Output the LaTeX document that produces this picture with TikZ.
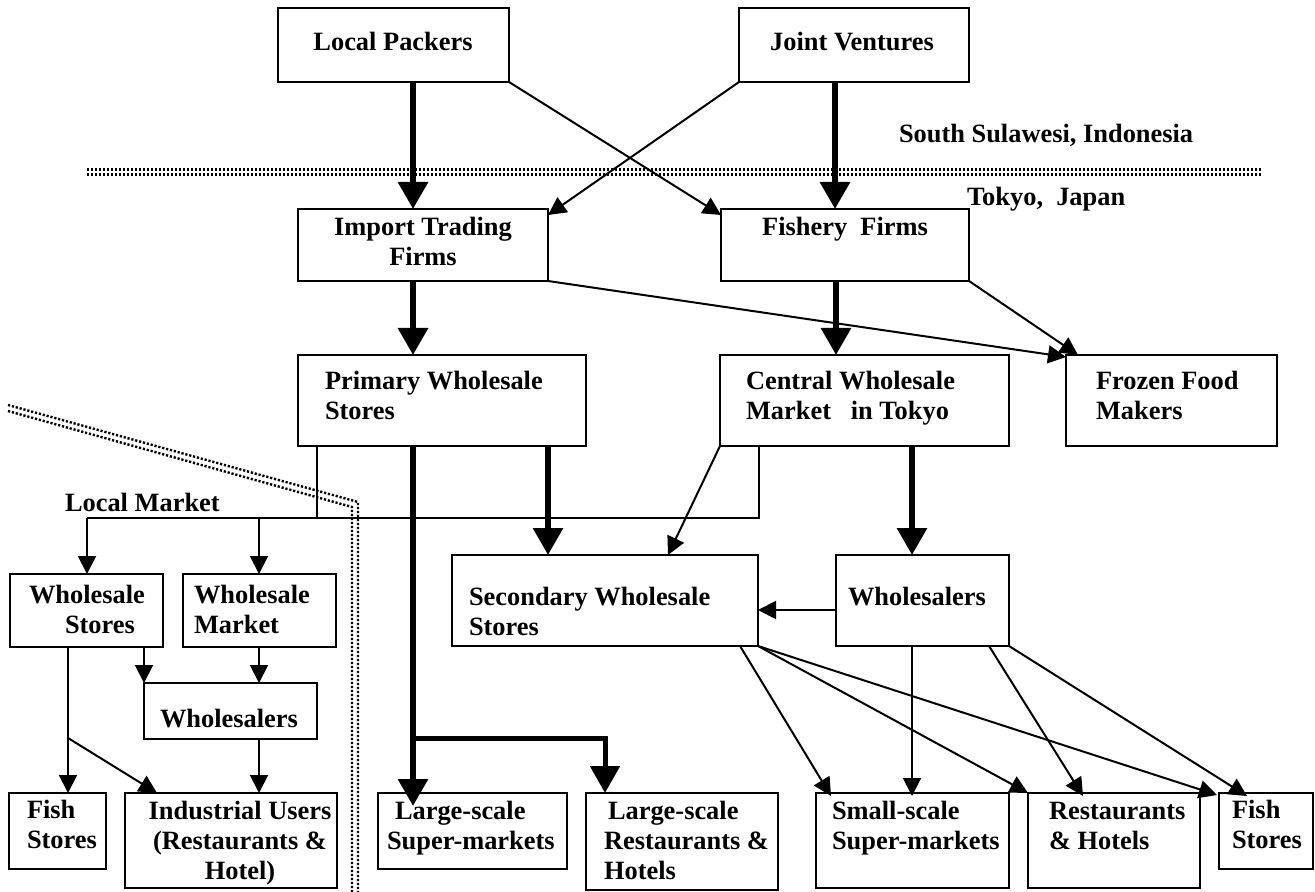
\documentclass[tikz,border=0pt]{standalone}
\usepackage{fontspec}
\setmainfont{Liberation Serif}
\usetikzlibrary{arrows.meta,calc}
\newcommand{\Ltab}[1]{\begin{tabular}[t]{@{}l@{}}#1\end{tabular}}
\newcommand{\Ctab}[1]{\begin{tabular}[t]{@{}c@{}}#1\end{tabular}}
\begin{document}
\begin{tikzpicture}[x=0.5pt,y=-0.5pt,
  box/.style={draw,line width=1pt,inner sep=0pt,outer sep=0pt,anchor=north west},
  lbl/.style={font=\fontsize{13.2}{15}\selectfont\bfseries,inner sep=0pt,outer sep=0pt},
  lnk/.style={line width=1pt},
  arr/.style={line width=1pt,-{Triangle[length=9pt,width=9pt]}},
  bigarr/.style={line width=3pt,-{Triangle[length=13.5pt,width=14.5pt]}},
  dots/.style={line width=1.2pt,dash pattern=on 1.1pt off 0.9pt}]

\useasboundingbox (0,0) rectangle (1315,892);

% boxes
\node[box,minimum width=115.5pt,minimum height=37pt] (lp) at (278,8) {};
\node[box,minimum width=115pt,minimum height=37pt] (jv) at (739,8) {};
\node[box,minimum width=125pt,minimum height=36pt] (ip) at (298,209) {};
\node[box,minimum width=124pt,minimum height=36pt] (ff) at (721,209) {};
\node[box,minimum width=144pt,minimum height=45.5pt] (prim) at (298,355) {};
\node[box,minimum width=144.5pt,minimum height=45.5pt] (cw) at (720,355) {};
\node[box,minimum width=105.5pt,minimum height=45.5pt] (ffm) at (1066,355) {};
\node[box,minimum width=76.5pt,minimum height=36.5pt] (ws) at (10,574) {};
\node[box,minimum width=76.5pt,minimum height=36.5pt] (wm) at (183,574) {};
\node[box,minimum width=86.5pt,minimum height=28pt] (wl) at (144,683) {};
\node[box,minimum width=153pt,minimum height=45.5pt] (sec) at (452,555) {};
\node[box,minimum width=86.5pt,minimum height=45.5pt] (wr) at (836,555) {};
\node[box,minimum width=48.5pt,minimum height=38pt] (fs1) at (9,793) {};
\node[box,minimum width=106pt,minimum height=47.5pt] (iu) at (125,793) {};
\node[box,minimum width=94.5pt,minimum height=38pt] (ls) at (378,793) {};
\node[box,minimum width=96pt,minimum height=48.5pt] (lr) at (586,793) {};
\node[box,minimum width=96.5pt,minimum height=47.5pt] (ss) at (816,793) {};
\node[box,minimum width=86pt,minimum height=47.5pt] (rh) at (1028,793) {};
\node[box,minimum width=47pt,minimum height=38pt] (fs2) at (1219,793) {};

% box texts
\node[lbl,anchor=base] (lp-t) at (393,51) {Local Packers};
\node[lbl,anchor=base] (jv-t) at (852,51) {Joint Ventures};
\node[lbl,anchor=base] (ip-t) at (423,236) {\Ctab{Import Trading\\Firms}};
\node[lbl,anchor=base] (ff-t) at (845,236) {Fishery\ \ Firms};
\node[lbl,anchor=base west] (prim-t) at (325,390) {\Ltab{Primary Wholesale\\Stores}};
\node[lbl,anchor=base west] (cw-t) at (746,390) {\Ltab{Central Wholesale\\Market\ \ \ in Tokyo}};
\node[lbl,anchor=base west] (ffm-t) at (1096,390) {\Ltab{Frozen Food\\Makers}};
\node[lbl,anchor=base west] (ws-t) at (29,603) {\Ltab{Wholesale\\\hspace{18pt}Stores}};
\node[lbl,anchor=base west] (wm-t) at (194,603) {\Ltab{Wholesale\\Market}};
\node[lbl,anchor=base] (wl-t) at (229,727) {Wholesalers};
\node[lbl,anchor=base west] (sec-t) at (469,605) {\Ltab{Secondary Wholesale\\Stores}};
\node[lbl,anchor=base west] (wr-t) at (848,605) {Wholesalers};
\node[lbl,anchor=base west] (fs1-t) at (27,818) {\Ltab{Fish\\Stores}};
\node[lbl,anchor=base] (iu-t) at (240,819) {\Ctab{Industrial Users\\(Restaurants \&\\Hotel)}};
\node[lbl,anchor=base west] (ls-t) at (387,819) {\Ltab{\hspace{4pt}Large-scale\\Super-markets}};
\node[lbl,anchor=base west] (lr-t) at (604,819) {\Ltab{\hspace{2pt}Large-scale\\Restaurants \&\\Hotels}};
\node[lbl,anchor=base west] (ss-t) at (832,819) {\Ltab{Small-scale\\Super-markets}};
\node[lbl,anchor=base west] (rh-t) at (1049,819) {\Ltab{Restaurants\\\& Hotels}};
\node[lbl,anchor=base west] (fs2-t) at (1232,818) {\Ltab{Fish\\Stores}};

% region labels
\node[lbl,anchor=base west] (sul) at (899,143) {South Sulawesi, Indonesia};
\node[lbl,anchor=base west] (tok) at (967,206) {Tokyo,\ \ Japan};
\node[lbl,anchor=base west] (lm) at (65,511) {Local Market};

% region borders (double dotted)
\draw[dots] (87,169.5) -- (1262,169.5);
\draw[dots] (87,174.5) -- (1262,174.5);
\draw[dots] (8,405) -- (358,502) -- (358,892);
\draw[dots] (8,411) -- (352,507) -- (352,892);

% upper flows
\draw[bigarr] (lp.south -| 413,0) -- (ip.north -| 413,0);
\draw[bigarr] (jv.south -| 835,0) -- (ff.north -| 835,0);
\draw[arr] (lp.south east) -- ($(ff.north west)+(0,6)$);
\draw[arr] (jv.south west) -- ($(ip.north east)+(0,6)$);
\draw[bigarr] (ip.south -| 413,0) -- (prim.north -| 413,0);
\draw[bigarr] (ff.south -| 836,0) -- (cw.north -| 836,0);
\draw[arr] (ip.south east) -- ($(ffm.north west)+(0,2)$);
\draw[arr] (ff.south east) -- ($(ffm.north west)+(12,0)$);

% middle flows
\draw[bigarr] (prim.south -| 548,0) -- (sec.north -| 548,0);
\draw[arr] (cw.south west) -- (sec.north -| 668,0);
\draw[bigarr] (cw.south -| 912,0) -- (wr.north -| 912,0);
\draw[arr] (wr.west |- 0,610) -- (sec.east |- 0,610);

% local market
\coordinate (busL) at (87,518);
\coordinate (busM) at (259,518);
\draw[lnk] (prim.south -| 317,0) |- (busL);
\draw[lnk] (cw.south -| 759,0) |- (busL);
\draw[arr] (busL) -- (ws.north -| busL);
\draw[arr] (busM) -- (wm.north -| busM);
\draw[arr] (ws.south -| 144,0) -- (wl.north -| 144,0);
\draw[arr] (wm.south -| 259,0) -- (wl.north -| 259,0);
\draw[arr] (ws.south -| 68,0) -- (fs1.north -| 68,0);
\coordinate (wsb) at (68,738);
\draw[arr] (wsb) -- ($(iu.north west)+(32,0)$);
\draw[arr] (wl.south -| 259,0) -- (iu.north -| 259,0);

% large-scale buyers
\draw[bigarr] (prim.south -| 413,0) -- ($(ls.north -| 413,0)+(0,13)$);
\coordinate (lsb) at (413,738);
\draw[bigarr,line width=2.5pt] (lsb) -| (lr.north -| 605,0);

% small-scale buyers
\draw[arr] (sec.south -| 740,0) -- ($(ss.north west)+(15,3)$);
\draw[arr] (wr.south -| 912,0) -- ($(ss.north -| 912,0)+(0,3)$);
\draw[arr] (sec.south east) -- (rh.north west);
\draw[arr] (wr.south -| 989,0) -- ($(rh.north west)+(55,3)$);
\draw[arr] (sec.south east) -- ($(fs2.north west)+(-2,2)$);
\draw[arr] (wr.south east) -- ($(fs2.north west)+(28,3)$);
\end{tikzpicture}
\end{document}
